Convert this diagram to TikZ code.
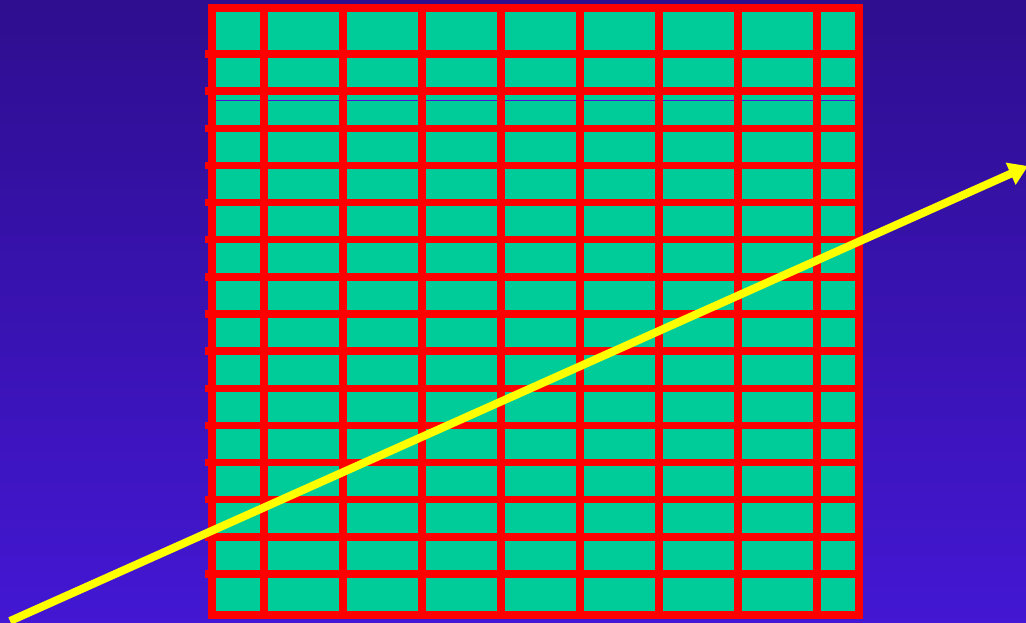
\documentclass[tikz,border=0pt]{standalone}
\usetikzlibrary{arrows.meta}
\definecolor{skytop}{RGB}{47,14,143}
\definecolor{skybottom}{RGB}{67,23,211}
\definecolor{cellgreen}{RGB}{0,204,153}
\definecolor{gridred}{RGB}{255,0,0}
\definecolor{rayyellow}{RGB}{255,255,0}
\begin{document}
\begin{tikzpicture}[x=1pt, y=-1pt,
  bar/.style={draw=gridred, line width=7.5pt},
  ray/.style={draw=rayyellow, line width=8pt, -{Triangle[length=19pt,width=23pt]}}]
\shade[top color=skytop, bottom color=skybottom] (0,0) rectangle (1026,622);
\useasboundingbox (0,0) rectangle (1026,622);
\fill[cellgreen] (212,8) rectangle (859,615);
\draw[skybottom, line width=1pt] (216,100) -- (855,100);
\foreach \x in {264,343,...,817}
  \draw[bar] (\x,8) -- (\x,615);
\foreach \k in {0,...,14}
  \draw[bar] (205,54+37.14*\k) -- (859,54+37.14*\k);
\draw[bar, line width=8pt] (212,8) rectangle (859,615);
\coordinate (tail) at (10,621);
\coordinate (tip) at (1028,166);
\draw[ray] (tail) -- (tip);
\end{tikzpicture}
\end{document}
